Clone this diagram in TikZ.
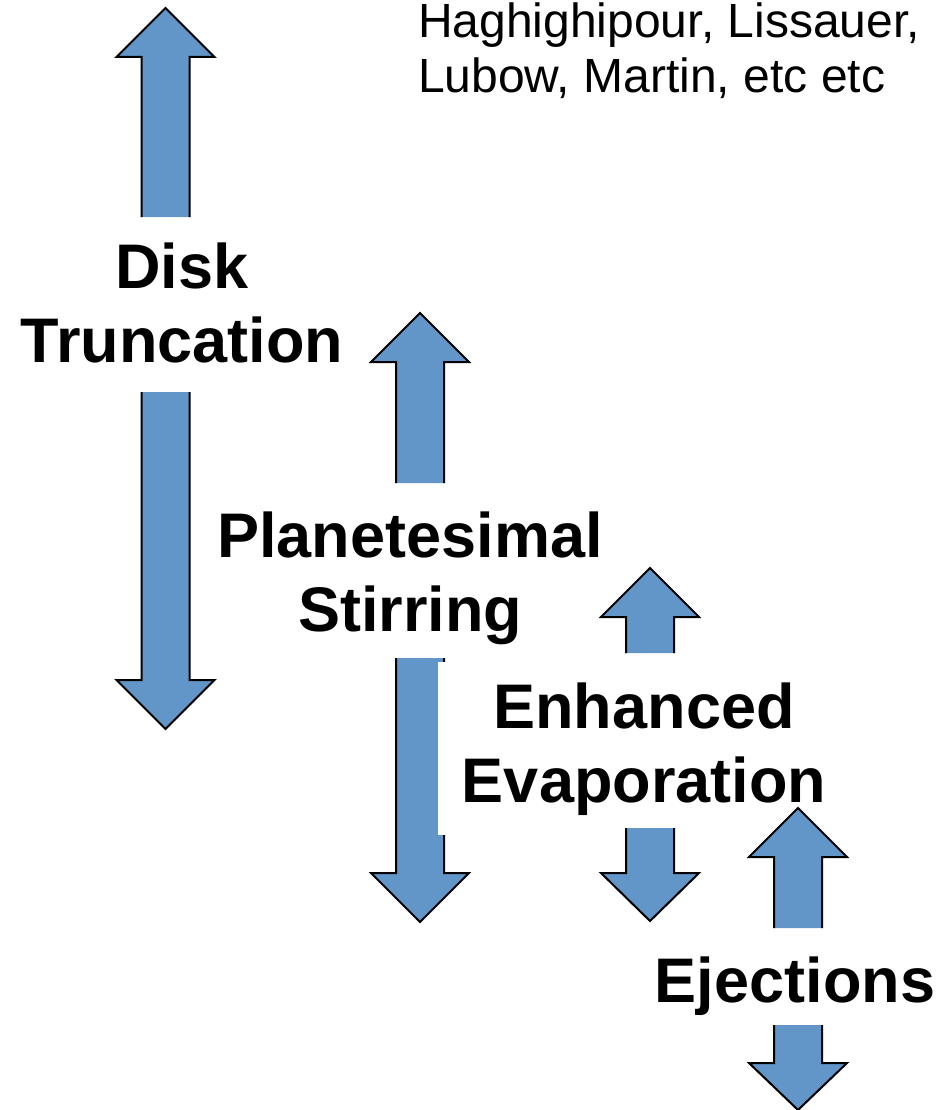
\documentclass[tikz,border=0pt]{standalone}
\usepackage{fontspec}
\setmainfont{Liberation Sans}
\definecolor{arrowblue}{RGB}{98,150,201}
% block arrow: centre x, foot y, head base y, tip y (foot left open)
\newcommand\blockarrow[4]{%
  \path[blockarrow] (#1-24,#2) -- (#1-24,#3) -- (#1-49,#3) -- (#1,#4)
    -- (#1+49,#3) -- (#1+24,#3) -- (#1+24,#2);}

\begin{document}
\begin{tikzpicture}
[x=1pt, y=-1pt,
 blockarrow/.style={fill=arrowblue, draw=black, line width=2pt, line join=miter},
 stage/.style={font=\fontsize{63}{74}\selectfont\bfseries, align=center, inner sep=0pt},
 refs/.style={font=\fontsize{48}{55}\selectfont, align=left, inner sep=0pt}]
\useasboundingbox (0,0) rectangle (942,1110);

\blockarrow{165.5}{217}{57}{8}
\blockarrow{165.5}{392}{680}{729}
\blockarrow{420}{483}{362}{313}
\blockarrow{420}{658}{873}{922}
\blockarrow{650}{653}{617}{568}

% base anchor sits on the last line
\node[refs, anchor=base west] (refs) at (418,93) {Haghighipour, Lissauer,\\Lubow, Martin, etc etc};
\node[stage, anchor=base] (trunc) at (182,362) {Disk\\Truncation};
\node[stage, anchor=base] (stir) at (410,631) {Planetesimal\\Stirring};
\node[stage, anchor=base, fill=white, inner xsep=24pt, inner ysep=20pt] (evap) at (644,802) {Enhanced\\Evaporation};
\node[stage, anchor=base] (eject) at (795,1002) {Ejections};

\blockarrow{650}{828}{873}{921}
\blockarrow{798}{928}{857}{808}
\blockarrow{798}{1025}{1063}{1110}
\end{tikzpicture}
\end{document}
